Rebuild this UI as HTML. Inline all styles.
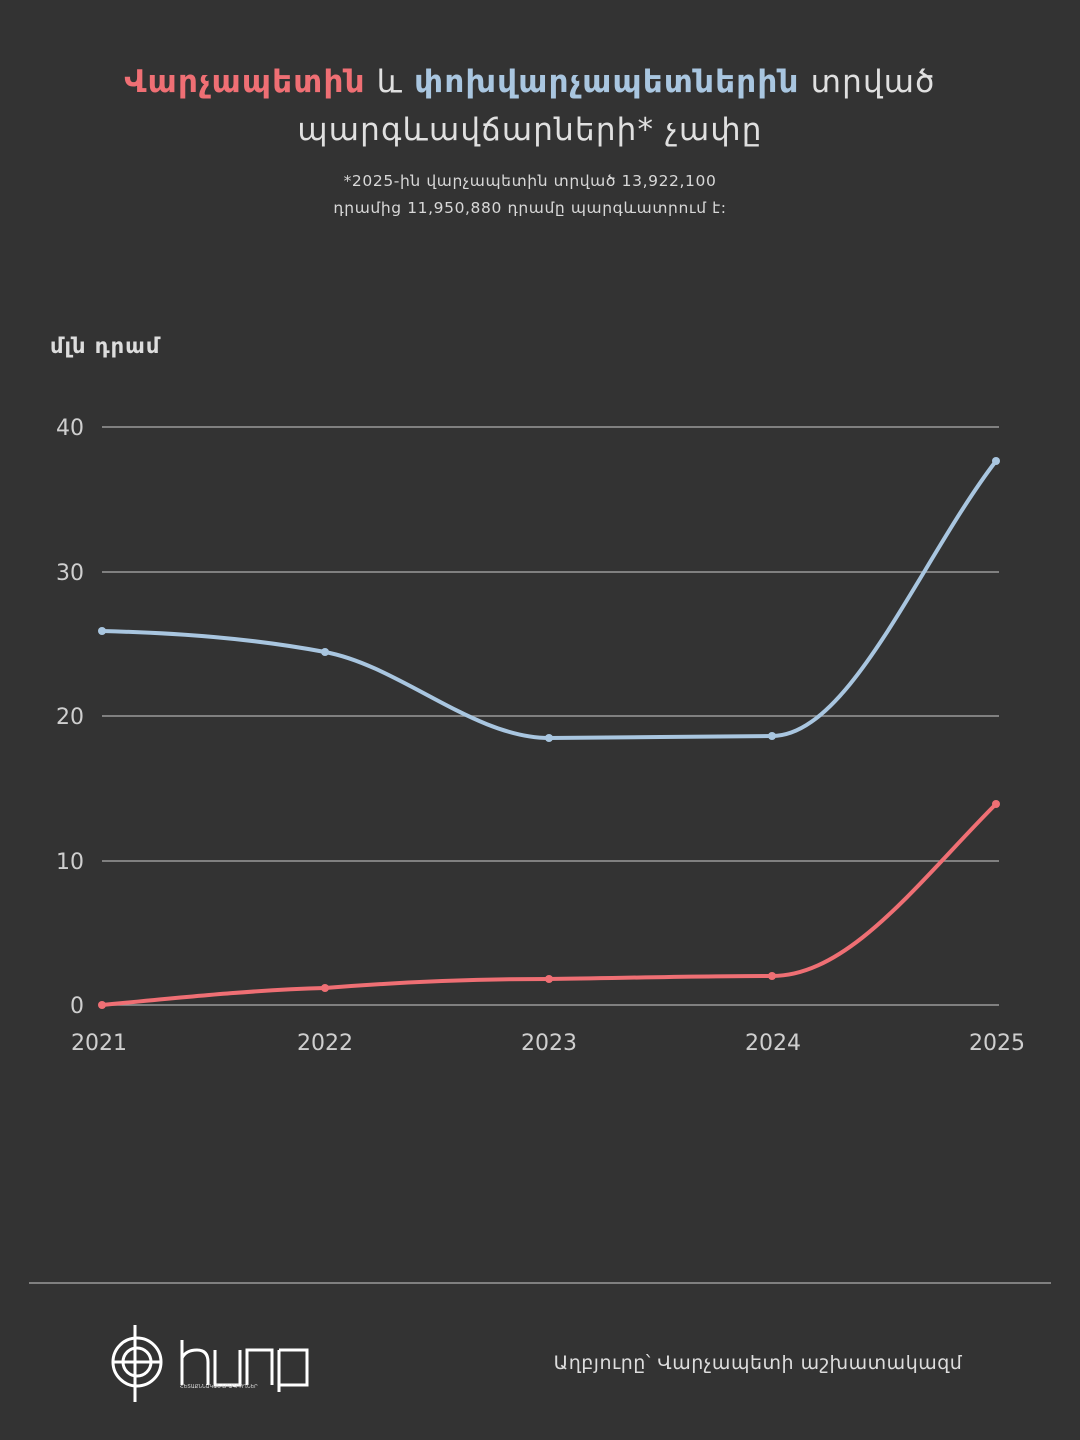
<!DOCTYPE html>
<html><head><meta charset="utf-8"><style>
body{margin:0;background:#333333;width:1080px;height:1440px;overflow:hidden;font-family:"DejaVu Sans","Liberation Sans",sans-serif;color:#e6e6e6}
.t{position:absolute;left:0;width:1060px;text-align:center}
</style></head><body>
<div class="t" style="top:58px;font-size:31px;line-height:48px;color:#e0e0e0;letter-spacing:1.2px">
<b style="color:#ef6f74">Վարչապետին</b> և <b style="color:#a9c6e0">փոխվարչապետներին</b> տրված<br>պարգևավճարների* չափը</div>
<div class="t" style="top:168px;font-size:15.5px;line-height:27px;color:#d8d8d8;letter-spacing:0.6px">*2025-ին վարչապետին տրված 13,922,100<br>դրամից 11,950,880 դրամը պարգևատրում է:</div>
<div style="position:absolute;left:50px;top:334px;font-size:21px;font-weight:bold;color:#ddd;letter-spacing:1px">մլն դրամ</div>
<svg width="1080" height="1440" style="position:absolute;left:0;top:0" font-family="DejaVu Sans, sans-serif">
<g stroke="#9a9a9a" stroke-width="1.5">
<line x1="102" y1="427" x2="999" y2="427"/><line x1="102" y1="572" x2="999" y2="572"/>
<line x1="102" y1="716" x2="999" y2="716"/><line x1="102" y1="861" x2="999" y2="861"/>
<line x1="102" y1="1005" x2="999" y2="1005"/></g>
<g fill="#cfcfcf" font-size="22" text-anchor="end">
<text x="84" y="435">40</text><text x="84" y="580">30</text><text x="84" y="724">20</text><text x="84" y="869">10</text><text x="84" y="1013">0</text></g>
<g fill="#cfcfcf" font-size="22" text-anchor="middle">
<text x="99" y="1050">2021</text><text x="325" y="1050">2022</text><text x="549" y="1050">2023</text><text x="773" y="1050">2024</text><text x="997" y="1050">2025</text></g>
<path d="M102,631 C177,633 250,638 325,652 C400,666 474,738 549,738 C624,738 697,736 772,736 C850,736 920,560 996,461" fill="none" stroke="#a9c6e0" stroke-width="4"/>
<path d="M102,1005 C177,998 250,990 325,988 C400,982 474,979 549,979 C624,978 697,976 772,976 C850,976 920,880 996,804" fill="none" stroke="#ef6f74" stroke-width="4"/>
<g fill="#a9c6e0"><circle cx="102" cy="631" r="4"/><circle cx="325" cy="652" r="4"/><circle cx="549" cy="738" r="4"/><circle cx="772" cy="736" r="4"/><circle cx="996" cy="461" r="4"/></g>
<g fill="#ef6f74"><circle cx="102" cy="1005" r="4"/><circle cx="325" cy="988" r="4"/><circle cx="549" cy="979" r="4"/><circle cx="772" cy="976" r="4"/><circle cx="996" cy="804" r="4"/></g>
<line x1="29" y1="1283" x2="1051" y2="1283" stroke="#999" stroke-width="1.5"/>
<g stroke="#fff" fill="none" stroke-width="3">
<line x1="135" y1="1325" x2="135" y2="1402"/>
<circle cx="137" cy="1362" r="24"/><circle cx="137" cy="1362" r="14"/>
<line x1="112" y1="1362" x2="162" y2="1362"/>
<path d="M182,1340 V1385 M182,1358 Q186,1350 197,1350 Q208,1350 208,1362 V1385 M215,1350 V1385 H240 V1350 M247,1385 V1350 H272 V1385 M279,1350 V1385 H307 V1350 H279 M279,1385 V1392"/>
</g>
<text x="180" y="1388" font-size="5" fill="#ddd">ՀԵՏԱՔՆՆԱԿԱՆ ԼՐԱԳՐՈՂՆԵՐ</text>
<text x="758" y="1369" font-size="19" fill="#ddd" text-anchor="middle" letter-spacing="0.5">Աղբյուրը՝ Վարչապետի աշխատակազմ</text>
</svg>
</body></html>
